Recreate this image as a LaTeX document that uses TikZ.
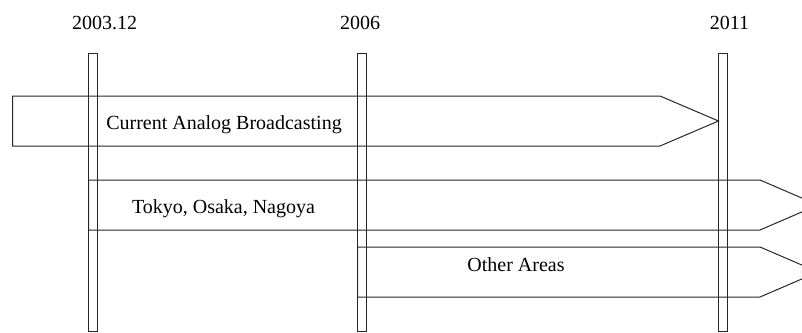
\documentclass[tikz,border=0pt]{standalone}
\usepackage{fontspec}
\setmainfont{Liberation Serif}
\begin{document}
\begin{tikzpicture}[x=1pt,y=-1pt,
  outline/.style={draw=black!85,line width=1pt,line join=miter},
  yearlabel/.style={anchor=base,inner sep=0pt,font=\fontsize{20}{24}\selectfont},
  phaselabel/.style={anchor=base,inner sep=0pt,font=\fontsize{20}{24}\selectfont}]
  \useasboundingbox (0,0) rectangle (802,332);
  \clip (0,0) rectangle (802,332);

  % year markers
  \node[yearlabel] (y2003) at (104.5,29.5) {2003.12};
  \node[yearlabel] (y2006) at (360,29.5) {2006};
  \node[yearlabel] (y2011) at (729.5,29.5) {2011};

  % vertical time bars
  \draw[outline] (88.5,53.5) rectangle (97,331);
  \draw[outline] (357.5,53.5) rectangle (366,331);
  \draw[outline] (718.5,53.5) rectangle (727,331);

  % phase arrows
  \draw[outline] (12.5,96) -- (660,96) -- (718.5,121) -- (660,146) -- (12.5,146) -- cycle;
  \draw[outline] (88.5,180) -- (760,180) -- (818,205) -- (760,230) -- (88.5,230) -- cycle;
  \draw[outline] (357.5,247) -- (760,247) -- (818,272) -- (760,297) -- (357.5,297) -- cycle;

  % phase labels
  \node[phaselabel] (analog) at (224,129) {Current Analog Broadcasting};
  \node[phaselabel] (major) at (223.5,213.5) {Tokyo, Osaka, Nagoya};
  \node[phaselabel] (other) at (516,271.5) {Other Areas};
\end{tikzpicture}
\end{document}
